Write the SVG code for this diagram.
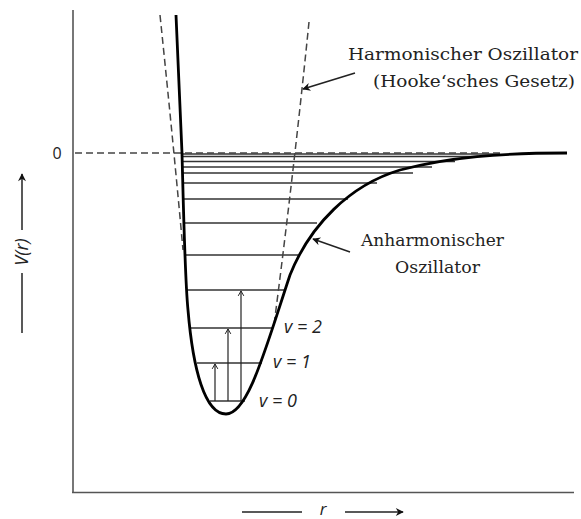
<svg xmlns="http://www.w3.org/2000/svg" width="581" height="519" viewBox="0 0 581 519">
<style>
.axis{stroke:#555;stroke-width:1.6;fill:none}
.curve{stroke:#000;stroke-width:2.8;fill:none;stroke-linejoin:round}
.dash{stroke:#444;stroke-width:1.5;fill:none;stroke-dasharray:7,4}
.lvl{stroke:#333;stroke-width:1.4}
.tr{stroke:#222;stroke-width:1.2;fill:none}
.lbl{font-family:"DejaVu Serif","Liberation Serif",serif;fill:#222}
.v{font-family:"Open Sans","Liberation Sans",sans-serif;font-style:italic;font-size:18px;fill:#222}
.ax{font-family:"Open Sans","Liberation Sans",sans-serif;fill:#222}
.ptr{stroke:#222;stroke-width:1.5;fill:none}
</style>
<defs>
<marker id="fa" viewBox="0 0 10 10" refX="9" refY="5" markerWidth="10" markerHeight="8" markerUnits="userSpaceOnUse" orient="auto">
<path d="M0,0 L10,5 L0,10 L3,5 Z" fill="#111"/>
</marker>
<marker id="oa" viewBox="0 0 10 10" refX="9" refY="5" markerWidth="7" markerHeight="9" markerUnits="userSpaceOnUse" orient="auto">
<path d="M2,1 L9,5 L2,9" stroke="#222" stroke-width="1.4" fill="none"/>
</marker>
</defs>
<g id="axes">
<line class="axis" x1="73" y1="10" x2="73" y2="493"/>
<line class="axis" x1="72" y1="492.5" x2="574" y2="492.5"/>
<text class="ax" x="57" y="159" font-size="16" text-anchor="middle">0</text>
<line class="ptr" x1="22" y1="230" x2="22" y2="174" marker-end="url(#fa)"/>
<line class="ptr" x1="22" y1="273" x2="22" y2="333"/>
<text class="ax" transform="translate(28,252) rotate(-90)" font-size="18" font-style="italic" text-anchor="middle">V(r)</text>
<line class="ptr" x1="242" y1="512" x2="302" y2="512"/>
<line class="ptr" x1="345" y1="512" x2="403" y2="512" marker-end="url(#fa)"/>
<text class="ax" x="323" y="515" font-size="17" font-style="italic" text-anchor="middle">r</text>
</g>
<g id="levels">
<line class="lvl" x1="210" y1="401" x2="245" y2="401"/>
<line class="lvl" x1="197" y1="363" x2="262" y2="363"/>
<line class="lvl" x1="190" y1="328" x2="273" y2="328"/>
<line class="lvl" x1="186" y1="290" x2="285" y2="290"/>
<line class="lvl" x1="184" y1="255" x2="298" y2="255"/>
<line class="lvl" x1="183" y1="223" x2="317" y2="223"/>
<line class="lvl" x1="183" y1="199" x2="348" y2="199"/>
<line class="lvl" x1="183" y1="183" x2="377" y2="183"/>
<line class="lvl" x1="183" y1="173" x2="413" y2="173"/>
<line class="lvl" x1="183" y1="167" x2="432" y2="167"/>
<line class="lvl" x1="183" y1="161.5" x2="455" y2="161.5"/>
<line class="lvl" x1="183" y1="156.5" x2="478" y2="156.5"/>
<line class="lvl" x1="183" y1="154" x2="500" y2="154"/>
</g>
<g id="harmonic">
<line class="dash" x1="75" y1="153" x2="500" y2="153" stroke-width="1.8"/>
<path class="dash" d="M160,15 Q174,150 183,250"/>
<path class="dash" d="M309,22 Q294,170 274,325"/>
</g>
<g id="morse">
<path class="curve" d="M176,15 L182,153 C184,230 185,280 188,310 C193,370 205,414 226,414 C248,414 265,350 290,275 C310,225 350,185 400,170 C450,157 500,153 567,153"/>
</g>
<g id="transitions">
<line class="tr" x1="215" y1="401" x2="215" y2="364" marker-end="url(#oa)"/>
<line class="tr" x1="228" y1="401" x2="228" y2="329" marker-end="url(#oa)"/>
<line class="tr" x1="241" y1="401" x2="241" y2="291" marker-end="url(#oa)"/>
</g>
<g id="v-labels">
<text class="v" x="284" y="333">v = 2</text>
<text class="v" x="273" y="368">v = 1</text>
<text class="v" x="259" y="407">v = 0</text>
</g>
<g id="label-harmonic">
<line class="ptr" x1="355" y1="73" x2="303" y2="89" marker-end="url(#fa)"/>
<text class="lbl" x="348" y="60" font-size="17" textLength="230" lengthAdjust="spacingAndGlyphs">Harmonischer Oszillator</text>
<text class="lbl" x="373" y="87" font-size="17" textLength="202" lengthAdjust="spacingAndGlyphs">(Hooke‘sches Gesetz)</text>
</g>
<g id="label-anharmonic">
<line class="ptr" x1="350" y1="252" x2="313" y2="239" marker-end="url(#fa)"/>
<text class="lbl" x="361" y="246" font-size="17" textLength="143" lengthAdjust="spacingAndGlyphs">Anharmonischer</text>
<text class="lbl" x="395" y="273" font-size="17" textLength="85" lengthAdjust="spacingAndGlyphs">Oszillator</text>
</g>
</svg>
